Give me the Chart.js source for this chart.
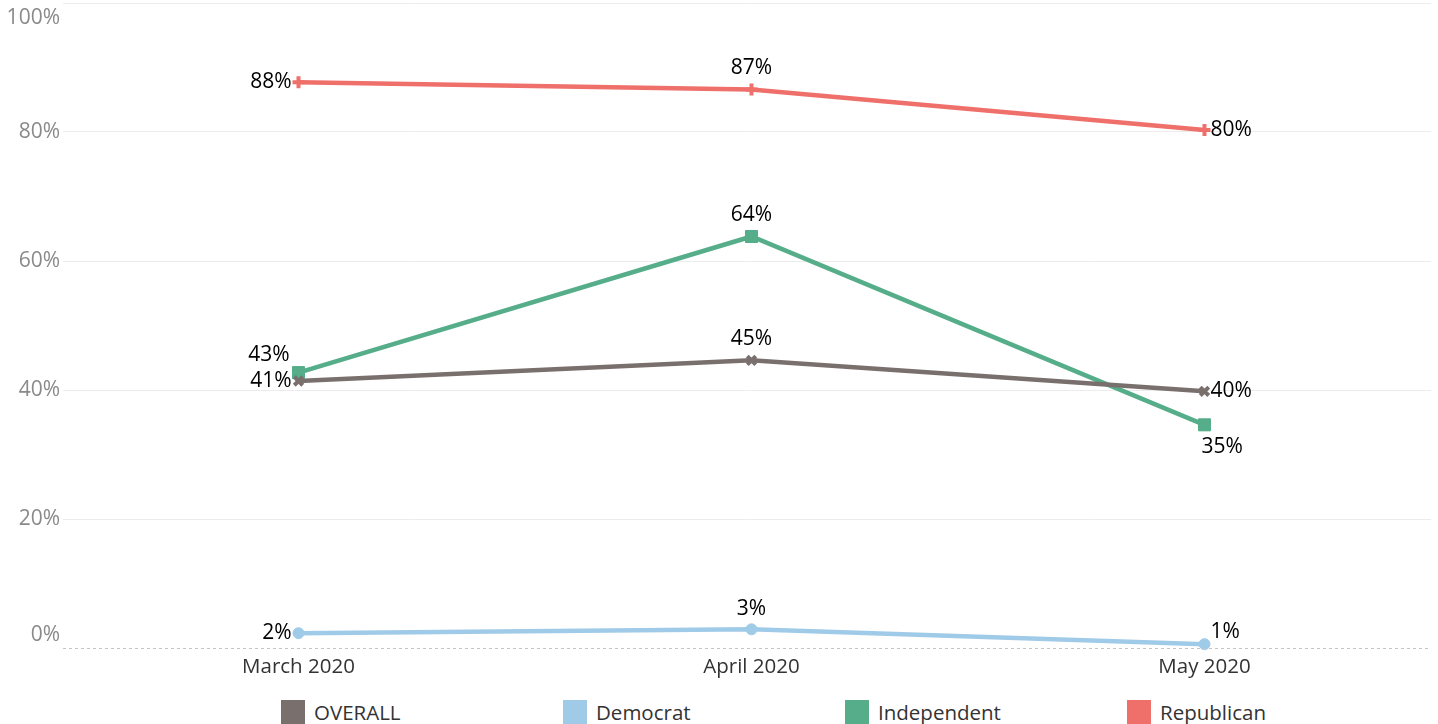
<!DOCTYPE html>
<html lang="en">
<head>
<meta charset="UTF-8" />
<title>Party trend</title>
<style>
  html, body {
    margin: 0;
    padding: 0;
    background: #fff;
    font-family: 'Open Sans', sans-serif;
  }
  .wrap {
    width: 1438px;
    height: 724px;
    overflow: hidden;
  }
  #chart {
    display: block;
  }
  .legend {
    display: flex;
    padding-left: 281px;
    margin-top: 8px;
  }
  .legend .item {
    width: 282px;
    display: flex;
    align-items: center;
    font-size: 20.5px;
    color: #333;
  }
  .legend .box {
    width: 24px;
    height: 24px;
    margin-right: 9px;
  }
</style>
</head>
<body>

<div class="wrap">
  <canvas id="chart" width="1438" height="690"></canvas>
  <div class="legend" id="legend"></div>
</div>

<script src="https://cdn.jsdelivr.net/npm/chart.js"></script>
<script>
const months = ['March 2020', 'April 2020', 'May 2020'];
const overall = [41.4, 44.6, 39.8];
const democrat = [2.3, 2.9, 0.6];
const independent = [42.7, 63.8, 34.6];
const republican = [87.7, 86.6, 80.3];
const yTicks = [0, 20, 40, 60, 80, 100];

// label placement per point: [dx, dy, textAlign]
const overallPos = [[-7, 0, 'right'], [0, -21, 'center'], [6, 0, 'left']];
const democratPos = [[-7, 0, 'right'], [0, -20, 'center'], [6, -12, 'left']];
const independentPos = [[-9, -18, 'right'], [0, -21, 'center'], [-3, 22, 'left']];
const republicanPos = [[-7, 0, 'right'], [0, -21, 'center'], [6, 0, 'left']];

const series = [
    {label: 'OVERALL', data: overall, color: '#79706e', style: 'crossRot', r: 6, pos: overallPos},
    {label: 'Democrat', data: democrat, color: '#a0cbe8', style: 'circle', r: 5.5, pos: democratPos},
    {label: 'Independent', data: independent, color: '#55ad89', style: 'rect', r: 8.5, pos: independentPos},
    {label: 'Republican', data: republican, color: '#ef6f6a', style: 'cross', r: 6, pos: republicanPos}
];

const labelPlugin = {
    id: 'labels',
    afterDraw(chart) {
        const ctx = chart.ctx;
        const y = chart.scales.y;
        const area = chart.chartArea;
        ctx.save();

        // dashed zero line
        ctx.strokeStyle = '#c4c4c4';
        ctx.lineWidth = 1;
        ctx.setLineDash([3, 3]);
        const y0 = Math.round(y.getPixelForValue(0)) + 0.5;
        ctx.beginPath();
        ctx.moveTo(area.left - 9, y0);
        ctx.lineTo(area.right, y0);
        ctx.stroke();
        ctx.setLineDash([]);

        // y tick labels
        ctx.font = '21px "Open Sans"';
        ctx.fillStyle = '#8a8a8a';
        ctx.textAlign = 'right';
        ctx.textBaseline = 'middle';
        yTicks.forEach(v => {
            let py = y.getPixelForValue(v);
            if (v === 0) py -= 13;
            if (v === 100) py += 15;
            ctx.fillText(v + '%', 60, py);
        });

        // data labels
        ctx.font = '21px "Open Sans"';
        ctx.fillStyle = '#000';
        chart.data.datasets.forEach((ds, i) => {
            const meta = chart.getDatasetMeta(i);
            meta.data.forEach((pt, j) => {
                const p = series[i].pos[j];
                ctx.textAlign = p[2];
                ctx.fillText(Math.round(ds.data[j]) + '%', pt.x + p[0], pt.y + p[1]);
            });
        });
        ctx.restore();
    }
};

const chart = new Chart(document.getElementById('chart').getContext('2d'), {
    type: 'line',
    data: {
        labels: months,
        datasets: series.map(s => ({
            label: s.label,
            data: s.data,
            borderColor: s.color,
            backgroundColor: s.color,
            borderWidth: 4.5,
            pointStyle: s.style,
            pointRadius: s.r,
            pointBorderWidth: s.style === 'cross' || s.style === 'crossRot' ? 4 : 1,
            pointBorderColor: s.color,
            pointBackgroundColor: s.color,
            tension: 0,
            fill: false,
            clip: false
        }))
    },
    options: {
        responsive: false,
        animation: false,
        layout: {autoPadding: false, padding: {left: 63, top: 3, right: 7, bottom: 0}},
        plugins: {
            legend: {display: false},
            tooltip: {enabled: false}
        },
        scales: {
            x: {
                offset: true,
                grid: {display: false, drawTicks: false},
                border: {display: false},
                ticks: {
                    color: '#333',
                    font: {family: 'Open Sans', size: 20.5},
                    padding: 7
                },
                afterFit(scale) { scale.height = 42; }
            },
            y: {
                min: 0,
                max: 100,
                ticks: {stepSize: 20, display: false},
                grid: {
                    color: c => c.tick && c.tick.value === 0 ? 'rgba(0,0,0,0)' : '#ececec',
                    tickColor: c => c.tick && c.tick.value === 0 ? 'rgba(0,0,0,0)' : '#ececec',
                    tickLength: 9,
                    lineWidth: 1
                },
                border: {display: false},
                afterFit(scale) { scale.width = 9; }
            }
        }
    },
    plugins: [labelPlugin]
});

// legend
const legend = document.getElementById('legend');
series.forEach(s => {
    const item = document.createElement('div');
    item.className = 'item';
    const box = document.createElement('span');
    box.className = 'box';
    box.style.background = s.color;
    const txt = document.createElement('span');
    txt.textContent = s.label;
    item.appendChild(box);
    item.appendChild(txt);
    legend.appendChild(item);
});
</script>

</body>
</html>
